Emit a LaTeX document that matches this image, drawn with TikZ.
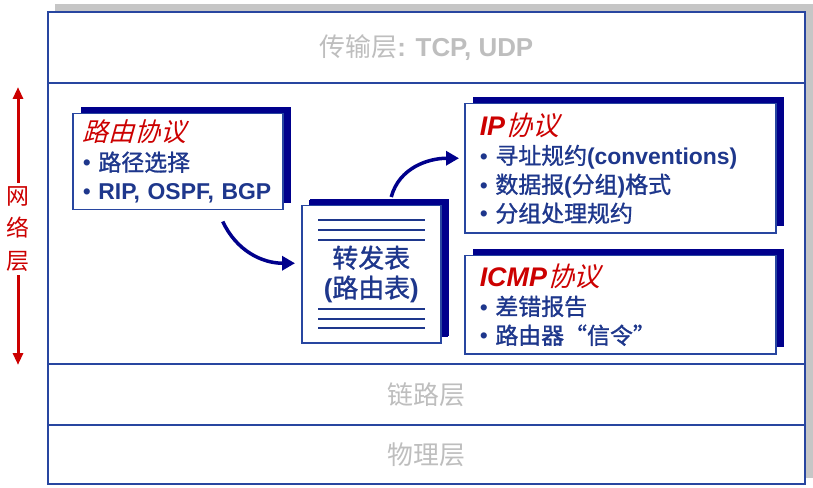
\documentclass[tikz,border=0pt]{standalone}
\usepackage{fontspec}
\setmainfont{Liberation Sans}
\newfontfamily\cjk{Noto Sans CJK SC}[FakeBold=1.2]
\newfontfamily\cjklight{Noto Sans CJK SC}
\newfontfamily\cjkit{Noto Sans CJK SC}[FakeSlant=0.28]
\usetikzlibrary{positioning, arrows.meta, shadows}
\definecolor{frameblue}{RGB}{40,70,160}
\definecolor{txtblue}{RGB}{30,55,140}
\definecolor{shadeblue}{RGB}{0,0,140}
\definecolor{titlered}{RGB}{204,0,0}
\definecolor{layergray}{RGB}{190,190,190}
\tikzset{
  layer/.style={draw=frameblue, line width=2bp, fill=white, inner sep=0pt, outer sep=0pt,
    minimum width=757bp, text=layergray, font=\fontsize{26}{30}\selectfont},
  protobox/.style={draw=frameblue, line width=1.5bp, fill=white, anchor=north west, align=left,
    inner xsep=10bp, inner ysep=0pt, text=txtblue, font=\fontsize{23}{29}\selectfont,
    drop shadow={shadow xshift=8bp, shadow yshift=7bp, fill=shadeblue, opacity=1}},
  tablebox/.style={protobox, align=center, font=\fontsize{26}{30}\selectfont,
    drop shadow={shadow xshift=7bp, shadow yshift=6bp, fill=shadeblue, opacity=1}},
  flow/.style={-{Triangle[length=13bp,width=14bp]}, line width=3.5bp, shadeblue},
  updown/.style={-{Triangle[length=12bp,width=10bp]}, line width=3bp, titlered},
}
\begin{document}
\begin{tikzpicture}[x=1bp, y=-1bp]
\useasboundingbox (0,0) rectangle (813,488);
% Frame shadow
\fill[gray!45] (55,4) rectangle (813,478);
% Layers
\node[layer, anchor=north west, minimum height=71bp] (transport) at (48,12)
  {{\cjklight 传输层}\textbf{: TCP, UDP}};
\node[layer, below=0pt of transport, minimum height=281bp] (network) {};
\node[layer, below=0pt of network, minimum height=61bp] (link) {\cjklight 链路层};
\node[layer, below=0pt of link, minimum height=59bp] (physical) {\cjklight 物理层};
% Network layer label
\node[titlered, font=\fontsize{23}{33}\selectfont\cjklight, align=center] (netlabel) at (18,229) {网\\络\\层};
\coordinate (nettop) at (18,87);
\coordinate (netbot) at (18,365);
\draw[updown] (netlabel.north) -- (nettop);
\draw[updown] (netlabel.south) -- (netbot);
% Protocol boxes
\node[protobox, text width=190bp, minimum height=96bp] (route) at (72,113)
  {{\color{titlered}\fontsize{26}{29}\selectfont\cjkit 路由协议}\\
   • {\cjk 路径选择}\\
   • \textbf{RIP, OSPF, BGP}};
\node[protobox, inner xsep=15bp, text width=281bp, minimum height=129bp] (ip) at (464,103)
  {{\color{titlered}\fontsize{27}{29}\selectfont\textbf{\itshape IP}\cjkit 协议}\\
   • {\cjk 寻址规约}\textbf{(conventions)}\\
   • {\cjk 数据报}\textbf{(}{\cjk 分组}\textbf{)}{\cjk 格式}\\
   • {\cjk 分组处理规约}};
\node[protobox, inner xsep=15bp, text width=281bp, minimum height=98bp] (icmp) at (464,255)
  {{\color{titlered}\fontsize{27}{29}\selectfont\textbf{\itshape ICMP}\cjkit 协议}\\
   • {\cjk 差错报告}\\
   • {\cjk 路由器“信令”}};
% Forwarding table
\node[tablebox, minimum width=139bp, minimum height=137bp] (fwd) at (301,205)
  {\raisebox{-4bp}{\cjk 转发表}\\\raisebox{-4bp}{\textbf{(}{\cjk 路由表}\textbf{)}}};
\foreach \ly in {220,230,240,309,319,328}
  \draw[txtblue, line width=2bp] (318,\ly) -- (425,\ly);
% Arrows
\draw[flow] ([xshift=45bp,yshift=-11bp]route.south) to[out=-65,in=180] ([xshift=-6bp,yshift=11bp]fwd.west);
\draw[flow] ([xshift=20bp,yshift=8bp]fwd.north) to[out=75,in=180] ([xshift=-5bp,yshift=10bp]ip.west);
\end{tikzpicture}
\end{document}
